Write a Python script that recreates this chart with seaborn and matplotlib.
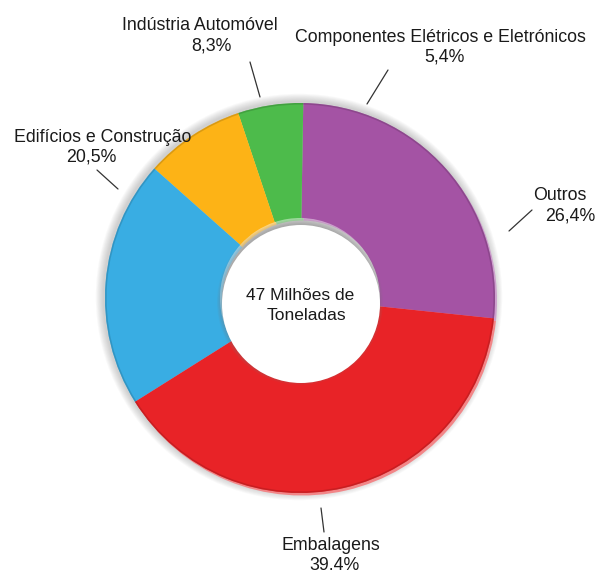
import matplotlib
matplotlib.use("Agg")
import matplotlib.pyplot as plt
import seaborn as sns
from matplotlib.patches import Circle
from matplotlib.colors import to_rgb

# Plastic consumption by sector
categories = ["Outros", "Componentes Elétricos e Eletrónicos", "Indústria Automóvel",
              "Edifícios e Construção", "Embalagens"]
shares = [26.4, 5.4, 8.3, 20.5, 39.4]
share_labels = ["26,4%", "5,4%", "8,3%", "20,5%", "39.4%"]
colors = ["#A453A4", "#4DBB4B", "#FDB316", "#39ADE3", "#E82327"]
center_text = ["47 Milhões de", "Toneladas"]

sns.set_theme(style="white")
plt.rcParams["font.family"] = ["Liberation Sans", "DejaVu Sans"]

W, H = 598, 573
fig = plt.figure(figsize=(W / 100, H / 100), dpi=100)
ax = fig.add_axes([0, 0, 1, 1])


def Y(py):
    return H - py


def mix(c, other, t):
    a, b = to_rgb(c), to_rgb(other)
    return tuple(x * (1 - t) + y * t for x, y in zip(a, b))


cx, cy, R, r_in = 300, 298, 195, 80
start = -6

# soft grey halo, a little towards the upper left
for k in range(9):
    ax.add_patch(Circle((cx - 1, Y(cy - 1)), R + 1 + k * 0.9, color="#7a7a7a",
                        alpha=0.045, lw=0, zorder=0))

# lighter rim peeking out at the lower right
ax.pie(shares, colors=[mix(c, "white", 0.45) for c in colors], startangle=start,
       counterclock=True, radius=R, center=(cx + 2, Y(cy + 2.5)),
       wedgeprops=dict(width=R - r_in, edgecolor="none", zorder=1), frame=True)

# main ring
ax.pie(shares, colors=colors, startangle=start, counterclock=True, radius=R,
       center=(cx, Y(cy)), wedgeprops=dict(width=R - r_in, edgecolor="none", zorder=2),
       frame=True)

# darker thin outer edge
ax.pie(shares, colors=[mix(c, "black", 0.25) for c in colors], startangle=start,
       counterclock=True, radius=R, center=(cx, Y(cy)),
       wedgeprops=dict(width=1.6, edgecolor="none", alpha=0.55, zorder=3), frame=True)

# shaded hole
for k in range(7):
    ax.add_patch(Circle((cx, Y(cy + 4)), r_in + 3 - k * 0.8, color="#7a7a7a",
                        alpha=0.07, lw=0, zorder=4))
ax.add_patch(Circle((cx + 1, Y(cy + 6)), r_in - 1, color="white", lw=0, zorder=5))

ax.text(300, Y(296), center_text[0], ha="center", va="center", fontsize=12.5,
        color="#1a1a1a", zorder=6)
ax.text(306, Y(316), center_text[1], ha="center", va="center", fontsize=12.5,
        color="#1a1a1a", zorder=6)

txt = dict(fontsize=12.8, color="#1a1a1a", ha="center", va="center")
name_pos = {
    "Outros": (560, 196),
    "Componentes Elétricos e Eletrónicos": (440, 38),
    "Indústria Automóvel": (200, 25),
    "Edifícios e Construção": (103, 138),
    "Embalagens": (331, 546),
}
pct_pos = {
    "Outros": (570, 216),
    "Componentes Elétricos e Eletrónicos": (444, 57),
    "Indústria Automóvel": (211, 46),
    "Edifícios e Construção": (91, 157),
    "Embalagens": (334, 566),
}
leaders = {
    "Outros": ((532, 210), (509, 231)),
    "Componentes Elétricos e Eletrónicos": ((388, 70), (367, 104)),
    "Indústria Automóvel": ((250, 62), (260, 97)),
    "Edifícios e Construção": ((97, 170), (118, 189)),
    "Embalagens": ((321, 508), (324, 532)),
}
for cat, lab in zip(categories, share_labels):
    x, y = name_pos[cat]
    ax.text(x, Y(y), cat, **txt)
    x, y = pct_pos[cat]
    ax.text(x, Y(y), lab, **txt)
    (x0, y0), (x1, y1) = leaders[cat]
    ax.plot([x0, x1], [Y(y0), Y(y1)], color="#333333", lw=0.9)

ax.set_xlim(0, W)
ax.set_ylim(0, H)
ax.set_aspect("auto")
ax.axis("off")
fig.savefig("out.png", dpi=100, facecolor="white")
